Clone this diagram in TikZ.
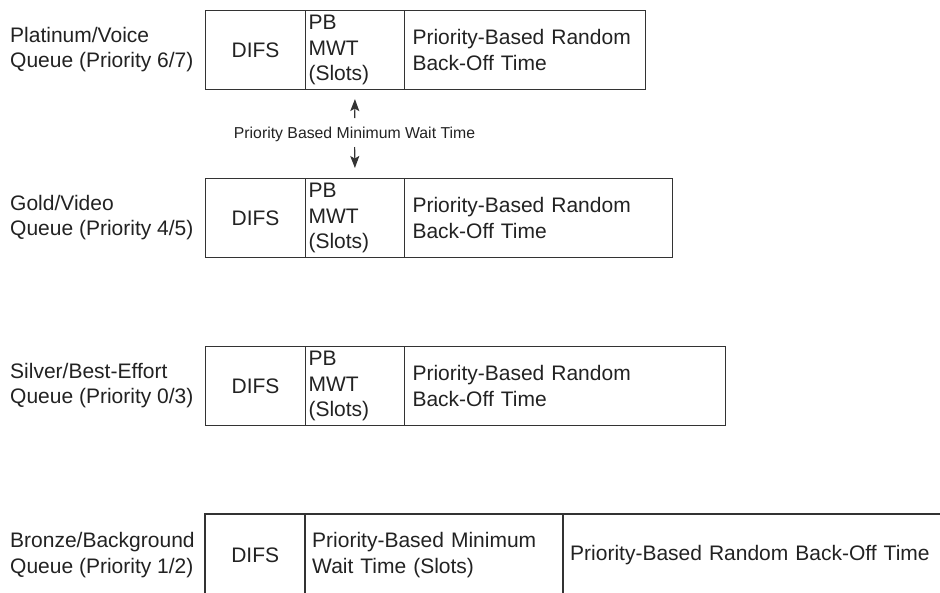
\documentclass[tikz,border=0pt]{standalone}
\usepackage{fontspec}
\setmainfont{Liberation Sans}
\usetikzlibrary{arrows.meta}
\definecolor{ln}{HTML}{333333}
\definecolor{tx}{HTML}{222222}
\begin{document}
\begin{tikzpicture}[x=1pt,y=-1pt,
  big/.style={font=\fontsize{21}{25.5}\selectfont, text=tx},
  cell/.style={big, draw=ln, line width=1.1pt, minimum height=79pt, inner ysep=0pt, anchor=north west},
  opencell/.style={big, minimum height=82pt, inner ysep=0pt, anchor=north west},
  ctr/.style={inner xsep=0pt, align=center},
  lft/.style={align=left},
  qlabel/.style={big, anchor=west, align=left, inner sep=0pt},
  arr/.style={draw=ln, line width=1.1pt, -{Stealth[length=12pt,width=9pt,inset=2.5pt]}}
]
\useasboundingbox (0,0) rectangle (940,592);
\clip (0,0) rectangle (940,592);

% Row 1
\node[cell, ctr, minimum width=100pt] (a1) at (205,10) {DIFS};
\node[cell, lft, inner xsep=3pt, text width=93pt] (a2) at (305,10) {PB\\MWT\\(Slots)};
\node[cell, lft, inner xsep=8pt, text width=225pt] (a3) at (404,10) {Priority-Based Random\\Back-Off Time};
\node[qlabel] (la) at (10,49.5) {Platinum/Voice\\Queue (Priority 6/7)};

% Row 2
\node[cell, ctr, minimum width=100pt] (b1) at (205,178) {DIFS};
\node[cell, lft, inner xsep=3pt, text width=93pt] (b2) at (305,178) {PB\\MWT\\(Slots)};
\node[cell, lft, inner xsep=8pt, text width=252pt] (b3) at (404,178) {Priority-Based Random\\Back-Off Time};
\node[qlabel] (lb) at (10,217.5) {Gold/Video\\Queue (Priority 4/5)};

% Row 3
\node[cell, ctr, minimum width=100pt] (c1) at (205,346) {DIFS};
\node[cell, lft, inner xsep=3pt, text width=93pt] (c2) at (305,346) {PB\\MWT\\(Slots)};
\node[cell, lft, inner xsep=8pt, text width=305pt] (c3) at (404,346) {Priority-Based Random\\Back-Off Time};
\node[qlabel] (lc) at (10,385.5) {Silver/Best-Effort\\Queue (Priority 0/3)};

% Row 4 (open at bottom and right)
\node[opencell, ctr, minimum width=100pt] (d1) at (205,514) {DIFS};
\node[opencell, lft, inner xsep=7pt, text width=244pt] (d2) at (305,514) {Priority-Based Minimum\\Wait Time (Slots)};
\node[opencell, lft, inner xsep=7pt, text width=363pt] (d3) at (563,514) {Priority-Based Random Back-Off Time};
\node[qlabel] (ld) at (10,555) {Bronze/Background\\Queue (Priority 1/2)};
\draw[draw=ln, line width=1.1pt] (d1.south west) -- (d1.north west) -- (d3.north east);
\draw[draw=ln, line width=1.1pt] (d2.south west) -- (d2.north west);
\draw[draw=ln, line width=1.1pt] (d3.south west) -- (d3.north west);

% Priority based minimum wait time
\node[font=\fontsize{15.8}{19}\selectfont, text=tx, inner sep=0pt] (mwt) at (354.5,134) {Priority Based Minimum Wait Time};
\draw[arr, shorten <=16pt, shorten >=9pt] (mwt.center) -- (a2.south);
\draw[arr, shorten <=13pt, shorten >=10pt] (mwt.center) -- (b2.north);
\end{tikzpicture}
\end{document}
